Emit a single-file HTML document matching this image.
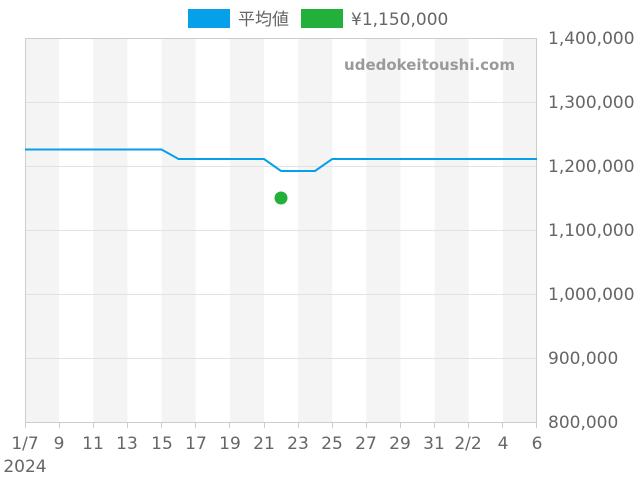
<!DOCTYPE html>
<html><head><meta charset="utf-8"><style>
html,body{margin:0;padding:0;background:#fff;}
svg{display:block;}
text{font-family:"DejaVu Sans","Noto Sans CJK JP",sans-serif;fill:#666;}
</style></head><body>
<svg width="640" height="480" viewBox="0 0 640 480" xmlns="http://www.w3.org/2000/svg">
<g fill="#f4f4f4">
<rect x="25" y="38" width="34.1" height="384"/>
<rect x="93.3" y="38" width="34.1" height="384"/>
<rect x="161.5" y="38" width="34.1" height="384"/>
<rect x="229.8" y="38" width="34.1" height="384"/>
<rect x="298.1" y="38" width="34.1" height="384"/>
<rect x="366.3" y="38" width="34.1" height="384"/>
<rect x="434.6" y="38" width="34.1" height="384"/>
<rect x="502.9" y="38" width="34.1" height="384"/>
</g>
<g stroke="#e2e2e2" stroke-width="1">
<line x1="25" y1="102.5" x2="537" y2="102.5"/>
<line x1="25" y1="166.5" x2="537" y2="166.5"/>
<line x1="25" y1="230.5" x2="537" y2="230.5"/>
<line x1="25" y1="294.5" x2="537" y2="294.5"/>
<line x1="25" y1="358.5" x2="537" y2="358.5"/>
</g>
<rect x="25.5" y="38.5" width="511" height="384" fill="none" stroke="#ccc"/>
<g stroke="#ccc">
<line x1="25.5" y1="422" x2="25.5" y2="428"/>
<line x1="59.5" y1="422" x2="59.5" y2="428"/>
<line x1="93.5" y1="422" x2="93.5" y2="428"/>
<line x1="127.5" y1="422" x2="127.5" y2="428"/>
<line x1="161.5" y1="422" x2="161.5" y2="428"/>
<line x1="195.5" y1="422" x2="195.5" y2="428"/>
<line x1="229.5" y1="422" x2="229.5" y2="428"/>
<line x1="264.5" y1="422" x2="264.5" y2="428"/>
<line x1="298.5" y1="422" x2="298.5" y2="428"/>
<line x1="332.5" y1="422" x2="332.5" y2="428"/>
<line x1="366.5" y1="422" x2="366.5" y2="428"/>
<line x1="400.5" y1="422" x2="400.5" y2="428"/>
<line x1="434.5" y1="422" x2="434.5" y2="428"/>
<line x1="468.5" y1="422" x2="468.5" y2="428"/>
<line x1="502.5" y1="422" x2="502.5" y2="428"/>
<line x1="536.5" y1="422" x2="536.5" y2="428"/>
</g>
<text x="515" y="70" text-anchor="end" font-size="15" font-weight="bold" style="fill:#9a9a9a">udedokeitoushi.com</text>
<polyline fill="none" stroke="#069fea" stroke-width="2" points="25,149.5 161.5,149.5 178.6,159 264,159 281,171 315,171 332.2,159 537,159"/>
<circle cx="281" cy="198" r="6.5" fill="#22b03a"/>
<g font-size="17" text-anchor="start">
<text x="548" y="44">1,400,000</text>
<text x="548" y="108">1,300,000</text>
<text x="548" y="172">1,200,000</text>
<text x="548" y="236">1,100,000</text>
<text x="548" y="300">1,000,000</text>
<text x="548" y="364">900,000</text>
<text x="548" y="428">800,000</text>
</g>
<g font-size="17" text-anchor="middle">
<text x="25" y="449">1/7</text>
<text x="59" y="449">9</text>
<text x="93" y="449">11</text>
<text x="127" y="449">13</text>
<text x="162" y="449">15</text>
<text x="196" y="449">17</text>
<text x="230" y="449">19</text>
<text x="264" y="449">21</text>
<text x="298" y="449">23</text>
<text x="332" y="449">25</text>
<text x="366" y="449">27</text>
<text x="400" y="449">29</text>
<text x="434" y="449">31</text>
<text x="468" y="449">2/2</text>
<text x="503" y="449">4</text>
<text x="537" y="449">6</text>
<text x="25" y="472">2024</text>
</g>
<rect x="188" y="9" width="42" height="19" fill="#069fea"/>
<text x="238" y="25" font-size="17">平均値</text>
<rect x="301" y="9" width="42" height="19" fill="#22b03a"/>
<text x="351" y="25" font-size="17">¥1,150,000</text>
</svg>
</body></html>
